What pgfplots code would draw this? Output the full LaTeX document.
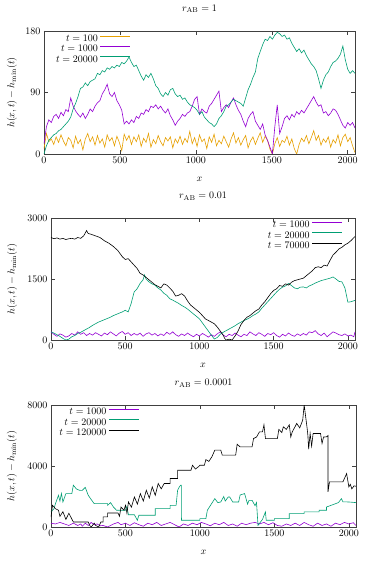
\documentclass[border=0pt]{standalone}
\usepackage{pgfplots}
\pgfplotsset{compat=1.18}
\definecolor{gorange}{HTML}{E69F00}
\definecolor{gpurple}{HTML}{9400D3}
\definecolor{ggreen}{HTML}{009E73}
\pgfplotsset{
  gp/.style={
    scale only axis, width=305pt, height=122pt,
    xmin=0, xmax=2048,
    xtick={0,500,1000,1500,2000},
    /pgf/number format/1000 sep={},
    tick align=inside, major tick length=4pt,
    minor tick num=0,
    axis line style={black!75, line width=0.5pt},
    every tick/.style={black!75, line width=0.5pt},
    tick label style={font=\fontsize{10}{12}\selectfont},
    label style={font=\fontsize{10}{12}\selectfont},
    title style={font=\fontsize{10}{12}\selectfont, at={(axis description cs:0.5,1.13)}, anchor=center},
    xlabel style={at={(axis description cs:0.5,-0.21)}, anchor=center},
    xlabel={$x$}, ylabel={$h(x,t)-h_{\min}(t)$},
    legend style={draw=none, fill=none, inner sep=0pt, font=\fontsize{10}{12}\selectfont, row sep=-1.5pt},
    legend cell align=right, legend plot pos=right,
    legend image code/.code={\draw[#1, line width=0.9pt] (0pt,3pt) -- (30pt,3pt);},
    every axis plot/.append style={line width=0.6pt, mark=none},
    scaled y ticks=false,
  }
}
\begin{document}
\begin{tikzpicture}[x=1pt,y=1pt]
\path[use as bounding box] (0,0) rectangle (374,561);
% ---------- Panel 1 ----------
\begin{axis}[gp, at={(44pt,407pt)}, anchor=south west, width=311pt, height=123pt,
  ymin=0, ymax=180, ytick={0,90,180},
  title={$r_{\mathrm{AB}} = 1$},
  ylabel style={at={(axis description cs:-0.103,0.5)}, anchor=center},
  legend style={at={(axis description cs:0.28,0.985)}, anchor=north east}]
\addplot[color=gorange] coordinates {(0,8) (16,30) (32,18) (48,22) (64,14) (80,25) (96,17) (112,28) (128,19) (144,12) (160,24) (176,20) (192,9) (208,26) (224,15) (240,21) (256,6) (272,22) (288,30) (304,18) (320,25) (336,13) (352,27) (368,16) (384,22) (400,10) (416,28) (432,19) (448,24) (464,12) (480,26) (496,17) (512,5) (528,29) (544,20) (560,27) (576,14) (592,25) (608,18) (624,28) (640,11) (656,23) (672,17) (688,30) (704,10) (720,21) (736,15) (752,27) (768,18) (784,12) (800,24) (816,19) (832,25) (848,9) (864,22) (880,16) (896,26) (912,14) (928,23) (944,17) (960,33) (976,15) (992,24) (1008,11) (1024,28) (1040,18) (1056,22) (1072,8) (1088,25) (1104,17) (1120,29) (1136,12) (1152,20) (1168,15) (1184,26) (1200,18) (1216,10) (1232,22) (1248,31) (1264,16) (1280,24) (1296,13) (1312,21) (1328,27) (1344,9) (1360,19) (1376,25) (1392,14) (1408,23) (1424,31) (1440,17) (1456,26) (1472,20) (1488,7) (1504,0) (1520,15) (1536,24) (1552,11) (1568,20) (1584,17) (1600,26) (1616,13) (1632,22) (1648,8) (1664,0) (1680,14) (1696,23) (1712,18) (1728,27) (1744,15) (1760,24) (1776,34) (1792,20) (1808,27) (1824,13) (1840,22) (1856,17) (1872,25) (1888,10) (1904,21) (1920,16) (1936,28) (1952,12) (1968,24) (1984,29) (2000,18) (2016,24) (2032,12) (2048,2)};
\addlegendentry{$t = 100$}
\addplot[color=gpurple] coordinates {(0,15) (16,40) (32,50) (48,46) (64,55) (80,58) (96,52) (112,61) (128,56) (144,65) (160,62) (176,82) (192,70) (208,63) (224,58) (240,54) (256,60) (272,52) (288,58) (304,66) (320,62) (336,70) (352,75) (368,78) (384,88) (400,94) (416,102) (432,88) (448,84) (464,90) (480,78) (496,72) (512,64) (528,44) (544,48) (560,44) (576,50) (592,46) (608,55) (624,52) (640,60) (656,58) (672,65) (688,62) (704,70) (720,68) (736,72) (752,66) (768,70) (784,64) (800,60) (816,66) (832,56) (848,50) (864,42) (880,48) (896,52) (912,58) (928,55) (944,60) (960,62) (976,70) (992,80) (1008,84) (1024,58) (1040,66) (1056,62) (1072,60) (1088,70) (1104,74) (1120,80) (1136,86) (1152,92) (1168,62) (1184,68) (1200,72) (1216,68) (1232,76) (1248,82) (1264,72) (1280,64) (1296,58) (1312,48) (1328,40) (1344,52) (1360,58) (1376,62) (1392,48) (1408,42) (1424,36) (1440,44) (1456,28) (1472,20) (1488,10) (1504,0) (1520,40) (1536,72) (1552,30) (1568,40) (1584,52) (1600,56) (1616,50) (1632,58) (1648,54) (1664,62) (1680,58) (1696,64) (1712,60) (1728,66) (1744,72) (1760,78) (1776,84) (1792,76) (1808,70) (1824,72) (1840,60) (1856,62) (1872,56) (1888,60) (1904,66) (1920,64) (1936,58) (1952,50) (1968,42) (1984,38) (2000,46) (2016,42) (2032,46) (2048,38)};
\addlegendentry{$t = 1000$}
\addplot[color=ggreen] coordinates {(0,0) (16,12) (32,20) (48,24) (64,28) (80,30) (96,34) (112,36) (128,40) (144,44) (160,48) (176,54) (192,66) (208,74) (224,84) (240,96) (256,98) (272,104) (288,100) (304,106) (320,108) (336,110) (352,118) (368,116) (384,122) (400,120) (416,126) (432,124) (448,128) (464,126) (480,130) (496,128) (512,134) (528,132) (544,136) (560,142) (576,134) (592,128) (608,130) (624,122) (640,114) (656,108) (672,116) (688,112) (704,118) (720,110) (736,100) (752,96) (768,88) (784,84) (800,90) (816,86) (832,94) (848,96) (864,88) (880,84) (896,86) (912,80) (928,82) (944,76) (960,72) (976,70) (992,68) (1008,64) (1024,58) (1040,62) (1056,54) (1072,50) (1088,46) (1104,44) (1120,40) (1136,44) (1152,52) (1168,56) (1184,62) (1200,70) (1216,72) (1232,76) (1248,80) (1264,78) (1280,76) (1296,74) (1312,70) (1328,82) (1344,94) (1360,102) (1376,112) (1392,120) (1408,140) (1424,150) (1440,160) (1456,168) (1472,166) (1488,172) (1504,168) (1520,174) (1536,178) (1552,176) (1568,172) (1584,174) (1600,168) (1616,170) (1632,162) (1648,156) (1664,150) (1680,154) (1696,148) (1712,152) (1728,144) (1744,138) (1760,132) (1776,128) (1792,122) (1808,110) (1824,96) (1840,108) (1856,116) (1872,120) (1888,128) (1904,134) (1920,136) (1936,140) (1952,146) (1968,158) (1984,138) (2000,124) (2016,118) (2032,122) (2048,118)};
\addlegendentry{$t = 20000$}
\end{axis}
% ---------- Panel 2 ----------
\begin{axis}[gp, at={(51pt,221pt)}, anchor=south west, width=304pt, height=122pt,
  ymin=0, ymax=3000, ytick={0,1500,3000},
  title={$r_{\mathrm{AB}} = 0.01$},
  ylabel style={at={(axis description cs:-0.128,0.5)}, anchor=center},
  legend style={at={(axis description cs:0.96,0.99)}, anchor=north east}]
\addplot[color=gpurple] coordinates {(0,200) (20,140) (40,90) (60,150) (80,120) (100,70) (120,100) (140,160) (160,120) (180,200) (200,140) (220,180) (240,110) (260,160) (280,120) (300,180) (320,140) (340,100) (360,170) (380,130) (400,200) (420,150) (440,100) (460,170) (480,210) (500,140) (520,180) (540,110) (560,160) (580,120) (600,170) (620,90) (640,150) (660,180) (680,120) (700,160) (720,100) (740,150) (760,110) (780,190) (800,140) (820,200) (840,130) (860,90) (880,150) (900,110) (920,170) (940,120) (960,80) (980,140) (1000,100) (1020,160) (1040,120) (1060,70) (1080,130) (1100,90) (1120,150) (1140,200) (1160,120) (1180,80) (1200,140) (1220,110) (1240,170) (1260,120) (1280,80) (1300,140) (1320,110) (1340,200) (1360,150) (1380,110) (1400,180) (1420,140) (1440,90) (1460,160) (1480,130) (1500,180) (1520,110) (1540,70) (1560,140) (1580,100) (1600,170) (1620,120) (1640,90) (1660,150) (1680,110) (1700,160) (1720,120) (1740,200) (1760,180) (1780,230) (1800,150) (1820,110) (1840,170) (1860,80) (1880,140) (1900,200) (1920,170) (1940,130) (1960,110) (1980,150) (2000,100) (2020,120) (2040,80) (2048,200)};
\addlegendentry{$t = 1000$}
\addplot[color=ggreen] coordinates {(0,200) (20,170) (40,130) (60,90) (80,40) (100,0) (120,20) (140,80) (160,110) (180,160) (200,190) (220,230) (240,270) (260,310) (280,360) (300,400) (320,440) (340,470) (360,500) (380,530) (400,560) (420,600) (440,630) (460,660) (480,690) (500,730) (520,690) (540,900) (560,1180) (580,1260) (600,1390) (620,1480) (630,1600) (640,1500) (660,1430) (680,1380) (700,1350) (720,1280) (740,1230) (760,1150) (780,1100) (800,1015) (820,980) (840,940) (860,900) (880,850) (900,810) (920,760) (940,700) (960,640) (980,580) (1000,520) (1020,420) (1040,320) (1060,220) (1080,120) (1100,25) (1120,60) (1140,140) (1160,190) (1180,230) (1200,270) (1220,310) (1240,350) (1260,400) (1280,440) (1300,480) (1320,510) (1340,550) (1360,600) (1380,640) (1400,690) (1420,780) (1440,860) (1460,940) (1480,1020) (1500,1100) (1520,1180) (1540,1250) (1560,1300) (1580,1330) (1600,1390) (1620,1340) (1640,1280) (1660,1260) (1680,1300) (1700,1305) (1720,1280) (1740,1330) (1760,1360) (1780,1400) (1800,1430) (1820,1460) (1840,1480) (1860,1500) (1880,1520) (1900,1550) (1920,1500) (1940,1440) (1960,1430) (1980,1280) (2000,930) (2020,940) (2048,975)};
\addlegendentry{$t = 20000$}
\addplot[color=black] coordinates {(0,2520) (20,2490) (40,2510) (60,2480) (80,2500) (100,2470) (120,2490) (140,2500) (160,2480) (180,2520) (200,2500) (220,2560) (240,2690) (250,2620) (270,2600) (300,2560) (330,2520) (360,2440) (390,2380) (420,2300) (450,2200) (480,2050) (500,1980) (520,2000) (540,1920) (560,1840) (580,1760) (600,1640) (620,1600) (640,1540) (660,1480) (680,1420) (700,1360) (720,1320) (740,1280) (760,1380) (780,1350) (800,1280) (820,1200) (840,1080) (860,1100) (880,1140) (900,1080) (920,960) (940,860) (960,800) (980,740) (1000,680) (1020,600) (1040,520) (1060,480) (1080,440) (1100,400) (1120,320) (1140,220) (1160,120) (1170,40) (1180,0) (1200,20) (1220,0) (1240,100) (1260,220) (1280,380) (1300,480) (1320,560) (1340,600) (1360,660) (1380,720) (1400,760) (1420,860) (1440,940) (1460,1040) (1480,1140) (1500,1220) (1520,1260) (1540,1340) (1560,1320) (1580,1380) (1600,1350) (1620,1420) (1640,1460) (1660,1480) (1680,1500) (1700,1520) (1720,1580) (1740,1640) (1760,1700) (1780,1780) (1800,1800) (1820,1780) (1840,1840) (1860,1820) (1880,1960) (1900,2090) (1920,2160) (1940,2240) (1960,2280) (1980,2340) (2000,2380) (2020,2440) (2048,2545)};
\addlegendentry{$t = 70000$}
\end{axis}
% ---------- Panel 3 ----------
\begin{axis}[gp, at={(51pt,34pt)}, anchor=south west, width=305pt, height=122pt,
  ymin=0, ymax=8000, ytick={0,4000,8000},
  title={$r_{\mathrm{AB}} = 0.0001$},
  ylabel style={at={(axis description cs:-0.128,0.5)}, anchor=center},
  legend style={at={(axis description cs:0.29,0.99)}, anchor=north east}]
\addplot[color=gpurple] coordinates {(0,250) (30,200) (60,300) (90,200) (120,100) (150,250) (180,100) (200,200) (210,50) (230,250) (250,100) (270,300) (290,150) (310,200) (330,80) (350,100) (380,0) (420,200) (450,300) (470,150) (500,250) (530,100) (560,280) (590,150) (620,50) (650,250) (680,150) (710,300) (740,100) (770,200) (800,300) (830,150) (860,0) (890,200) (920,100) (950,250) (980,150) (1010,300) (1040,200) (1070,80) (1100,250) (1130,150) (1160,300) (1190,100) (1220,200) (1250,50) (1280,250) (1310,150) (1340,250) (1370,300) (1400,200) (1430,300) (1460,150) (1490,280) (1520,100) (1550,50) (1580,200) (1610,100) (1640,250) (1670,100) (1700,300) (1730,150) (1760,50) (1790,250) (1820,100) (1850,200) (1880,50) (1910,250) (1940,150) (1970,300) (2000,200) (2030,280) (2048,100)};
\addlegendentry{$t = 1000$}
\addplot[color=ggreen] coordinates {(0,990) (20,1200) (30,1530) (40,1800) (50,2080) (60,1700) (70,2200) (80,1640) (100,2190) (140,2190) (150,2740) (170,2500) (190,2410) (210,2400) (230,2600) (250,2080) (270,1800) (290,1530) (380,1530) (380,1420) (400,1600) (420,1300) (440,1100) (500,1100) (510,1350) (520,800) (560,800) (580,440) (590,770) (700,770) (700,1200) (800,1200) (800,1420) (840,1420) (850,2400) (860,2600) (870,2740) (875,2740) (876,440) (1000,440) (1000,550) (1040,550) (1050,1100) (1100,1860) (1120,1600) (1140,1640) (1160,2000) (1170,1700) (1190,1970) (1200,1970) (1220,1640) (1260,1640) (1270,2100) (1300,2190) (1320,1500) (1330,1750) (1350,1750) (1370,1400) (1380,1600) (1390,110) (1420,500) (1440,990) (1445,440) (1500,440) (1500,550) (1600,550) (1600,880) (1700,880) (1700,990) (1800,990) (1800,1100) (1850,1100) (1850,1310) (1930,1600) (1950,1860) (1960,1650) (2000,1640) (2048,1600)};
\addlegendentry{$t = 20000$}
\addplot[color=black] coordinates {(0,650) (10,1420) (30,1200) (50,1100) (60,700) (80,1000) (100,500) (120,900) (150,330) (250,330) (260,100) (270,0) (290,250) (300,100) (320,0) (335,330) (350,330) (350,660) (380,660) (380,920) (450,920) (460,700) (470,1310) (490,1100) (500,1420) (510,900) (520,1640) (540,1300) (560,1970) (580,1500) (600,2190) (620,1700) (640,2410) (660,1900) (680,2630) (700,2080) (720,2850) (740,2500) (760,2850) (800,2850) (800,3180) (850,3180) (850,3720) (940,3720) (950,4050) (970,3800) (990,3950) (1000,4050) (1030,4050) (1040,4420) (1060,4300) (1080,4600) (1100,5040) (1140,5040) (1150,4710) (1240,4710) (1250,5430) (1270,5250) (1350,5250) (1360,5800) (1380,5900) (1400,6240) (1420,6240) (1430,6700) (1440,5800) (1520,5800) (1530,6400) (1550,6200) (1560,6570) (1580,6400) (1600,6700) (1610,5900) (1620,6240) (1640,6600) (1650,6790) (1670,6500) (1690,7000) (1700,8000) (1720,6460) (1725,6000) (1730,5100) (1740,6130) (1750,5300) (1760,6130) (1810,6130) (1820,5480) (1830,5900) (1850,5910) (1860,6000) (1860,2300) (1870,2960) (1960,2960) (1985,3500) (2000,2630) (2010,2800) (2020,2500) (2035,2700) (2048,2670)};
\addlegendentry{$t = 120000$}
\end{axis}
\end{tikzpicture}
\end{document}
